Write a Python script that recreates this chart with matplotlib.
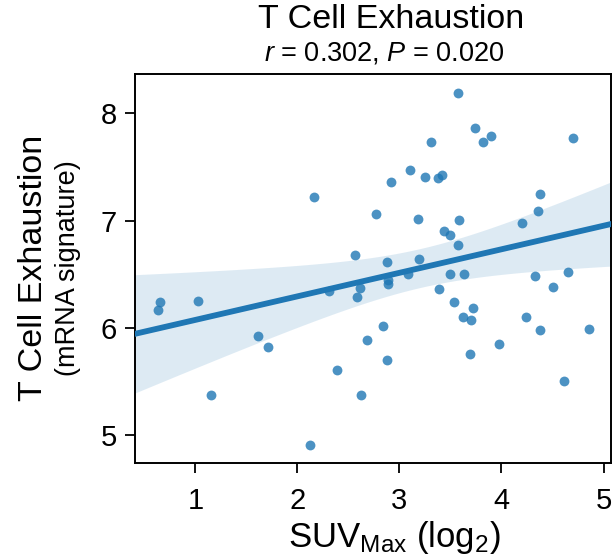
import numpy as np
import matplotlib.pyplot as plt

plt.rcParams["font.family"] = ["Liberation Sans", "DejaVu Sans"]
plt.rcParams["mathtext.fontset"] = "custom"
plt.rcParams["mathtext.rm"] = "Liberation Sans"
plt.rcParams["mathtext.it"] = "Liberation Sans:italic"

# SUVmax (log2) vs T cell exhaustion signature
suv_log2 = [
    0.63, 0.65, 1.03, 1.15, 1.61, 1.71, 2.12, 2.16, 2.31, 2.39,
    2.56, 2.58, 2.61, 2.62, 2.68, 2.77, 2.84, 2.88, 2.88, 2.89,
    2.89, 2.92, 3.08, 3.10, 3.18, 3.19, 3.25, 3.31, 3.38, 3.42,
    3.39, 3.44, 3.50, 3.50, 3.53, 3.57, 3.57, 3.58, 3.62, 3.63,
    3.69, 3.70, 3.72, 3.74, 3.82, 3.90, 3.98, 4.20, 4.24, 4.33,
    4.36, 4.38, 4.38, 4.50, 4.61, 4.65, 4.70, 4.86,
]
exhaustion = [
    6.17, 6.24, 6.25, 5.37, 5.92, 5.82, 4.91, 7.22, 6.34, 5.61,
    6.68, 6.29, 6.37, 5.37, 5.89, 7.06, 6.02, 5.70, 6.61, 6.45,
    6.41, 7.36, 6.50, 7.47, 7.02, 6.64, 7.41, 7.73, 7.40, 7.43,
    6.36, 6.90, 6.87, 6.50, 6.24, 8.19, 6.77, 7.01, 6.10, 6.50,
    5.76, 6.07, 6.19, 7.86, 7.73, 7.79, 5.85, 6.98, 6.10, 6.48,
    7.09, 5.98, 7.25, 6.38, 5.50, 6.52, 7.77, 5.99,
]

title = "T Cell Exhaustion"
subtitle = r"$\it{r}$ = 0.302, $\it{P}$ = 0.020"
x_ticks = [1, 2, 3, 4, 5]
y_ticks = [5, 6, 7, 8]


def fit_with_ci(x, y, grid, level_t=2.002):
    n = len(x)
    slope, intercept = np.polyfit(x, y, 1)
    resid = y - (slope * x + intercept)
    s = np.sqrt(np.sum(resid ** 2) / (n - 2))
    sxx = np.sum((x - x.mean()) ** 2)
    yhat = slope * grid + intercept
    half = level_t * s * np.sqrt(1.0 / n + (grid - x.mean()) ** 2 / sxx)
    return yhat, yhat - half, yhat + half


x = np.array(suv_log2)
y = np.array(exhaustion)
xlim = (0.407, 5.073)
ylim = (4.74, 8.368)
grid = np.linspace(xlim[0], xlim[1], 100)
yhat, lo, hi = fit_with_ci(x, y, grid)

fig = plt.figure(figsize=(6.13, 5.58), dpi=100)
ax = fig.add_axes([0.2199, 0.1703, 0.7768, 0.6971])

blue = "#1f77b4"
ax.fill_between(grid, lo, hi, color=blue, alpha=0.15, linewidth=0)
ax.scatter(x, y, s=50, color=blue, alpha=0.8, linewidths=0, zorder=3)
ax.plot(grid, yhat, color=blue, linewidth=4.2, zorder=4)

ax.set_xlim(*xlim)
ax.set_ylim(*ylim)
ax.set_xticks(x_ticks)
ax.set_yticks(y_ticks)
ax.tick_params(labelsize=21, length=7, width=1.3, direction="out", pad=6)
ax.tick_params(axis="x", pad=10)
for sp in ax.spines.values():
    sp.set_linewidth(1.4)
    sp.set_color("black")

fig.text(394 / 613, 1 - 538 / 558, r"SUV$_{\mathrm{Max}}$ (log$_2$)", fontsize=25, ha="center", va="center")
fig.text(34 / 613, 1 - 268 / 558, title, rotation=90, fontsize=24.5, ha="center", va="center")
fig.text(68 / 613, 1 - 268 / 558, "(mRNA signature)", rotation=90, fontsize=19.5, ha="center", va="center")
fig.text(391 / 613, 1 - 20 / 558, title, fontsize=24.5, ha="center", va="center")
fig.text(384 / 613, 1 - 53 / 558, subtitle, fontsize=19.5, ha="center", va="center")

fig.savefig("out.png", dpi=100)
plt.close(fig)
